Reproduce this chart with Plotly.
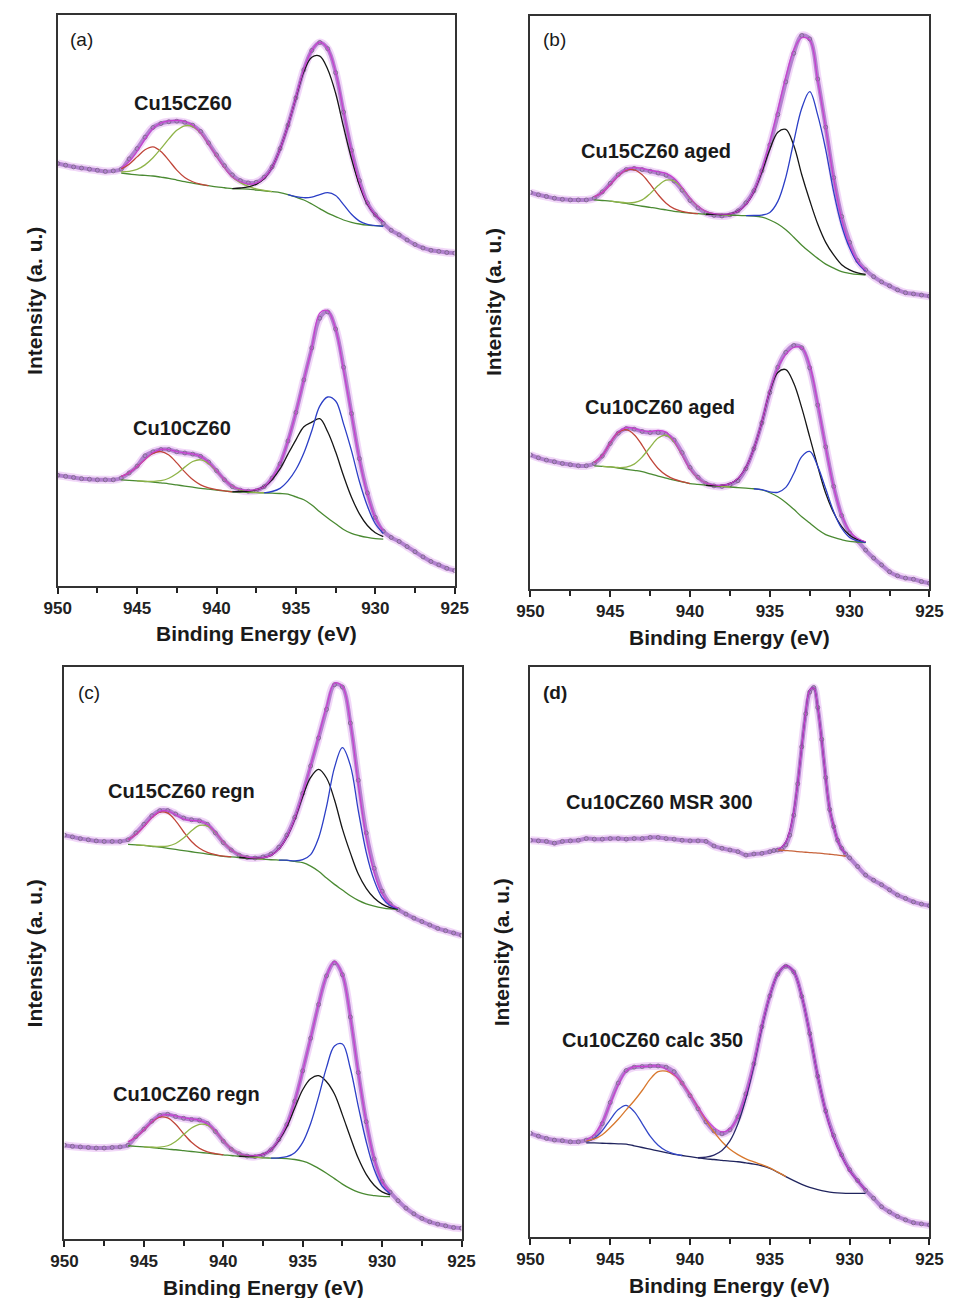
import plotly.graph_objects as go

FIG_W, FIG_H = 958, 1298
FONT = "Liberation Sans, Arial, sans-serif"

# Binding-energy grids (eV, high -> low)
BE = [950 - 0.5 * i for i in range(51)]
D1_BE = ([950 - 0.5 * i for i in range(31)]
         + [934.75 - 0.25 * i for i in range(20)]
         + [929.5 - 0.5 * i for i in range(10)])

# ---------------- (a) Cu15CZ60 ----------------
A1_COUNTS = [74.0, 73.7, 73.4, 73.2, 73.0, 72.8, 72.6, 72.7, 73.0, 74.8,
             76.6, 78.6, 80.3, 81.0, 81.3, 81.4, 81.2, 80.7, 79.6, 77.6,
             75.5, 73.6, 72.0, 71.0, 70.6, 70.7, 71.6, 73.4, 76.6, 80.7,
             85.5, 90.4, 93.8, 95.2, 94.1, 89.9, 83.0, 76.3, 71.0, 67.1,
             65.0, 63.5, 62.3, 61.5, 60.6, 59.8, 59.2, 58.8, 58.6, 58.4, 58.3]
A1_BG = [72.3, 72.15, 72.0, 71.9, 71.8, 71.6, 71.4, 71.1, 70.8, 70.55, 70.3, 70.1,
         69.9, 69.75, 69.6, 69.55, 69.5, 69.35, 69.2, 69.05, 68.9, 68.55, 68.1, 67.6,
         66.9, 66.1, 65.3, 64.7, 64.1, 63.7, 63.4, 63.2, 63.1, 63.0]
A1_SAT1 = [0.75, 1.73, 3.15, 4.5, 5.1, 4.5, 3.15, 1.73, 0.75, 0.25, 0.07, 0.0]
A1_SAT2 = [0.2, 0.45, 0.95, 1.85, 3.2, 5.0, 6.9, 8.7, 9.8, 9.9, 9.0, 7.3, 5.4, 3.5,
           2.0, 1.1, 0.5, 0.2, 0.1, 0.0]
A1_CU2 = [0.0, 0.15, 0.4, 1.0, 2.15, 4.25, 7.6, 12.1, 17.4, 22.5, 25.7, 26.7, 25.2,
          21.6, 16.3, 11.1, 6.8, 3.7, 1.85, 0.8]
A1_CU1 = [0.0, 0.1, 0.4, 1.2, 2.45, 3.6, 3.7, 2.7, 1.4, 0.5, 0.13, 0.03, 0.0]

# ---------------- (a) Cu10CZ60 ----------------
A2_COUNTS = [19.4, 19.2, 19.0, 18.8, 18.7, 18.6, 18.6, 18.6, 18.9, 19.8,
             21.0, 22.8, 23.5, 23.9, 23.9, 23.5, 23.3, 23.1, 22.7, 21.7,
             20.2, 18.6, 17.4, 16.8, 16.6, 16.7, 17.4, 18.9, 21.4, 25.4,
             30.4, 36.1, 41.7, 46.9, 48.0, 45.0, 38.3, 30.2, 22.3, 16.3,
             12.0, 9.6, 8.5, 7.8, 6.9, 6.0, 5.1, 4.3, 3.7, 3.1, 2.7]
A2_BG = [18.6, 18.5, 18.4, 18.3, 18.2, 18.05, 17.9, 17.7, 17.5, 17.3, 17.1, 16.95,
         16.8, 16.65, 16.5, 16.45, 16.4, 16.35, 16.3, 16.25, 16.2, 16.1, 15.6, 15.1,
         14.2, 13.0, 11.9, 10.9, 9.9, 9.2, 8.8, 8.5, 8.3, 8.2]
A2_SAT1 = [0.6, 1.34, 2.48, 3.86, 5.03, 5.5, 5.03, 3.86, 2.48, 1.34, 0.6, 0.23, 0.07, 0.02, 0.0]
A2_SAT2 = [0.0, 0.03, 0.13, 0.39, 0.97, 1.99, 3.32, 4.5, 5.0, 4.5, 3.32, 1.99, 0.97,
           0.39, 0.13, 0.03, 0.0]
A2_CU2 = [0.0, 0.1, 0.2, 0.5, 1.1, 2.4, 4.3, 7.0, 10.0, 12.8, 14.5, 16.3, 15.1, 12.6,
          9.4, 6.35, 3.84, 2.09, 1.02, 0.45]
A2_CU1 = [0.0, 0.3, 0.9, 2.3, 4.8, 8.2, 13.0, 18.5, 21.2, 21.5, 18.5, 14.5, 9.5, 5.5, 2.6, 1.0]

# ---------------- (b) Cu15CZ60 aged ----------------
B1_COUNTS = [69.2, 68.8, 68.5, 68.2, 68.0, 67.9, 67.9, 67.9, 68.2, 69.3,
             70.8, 72.3, 73.2, 73.4, 73.2, 72.9, 72.6, 72.2, 71.2, 69.6,
             67.8, 66.5, 65.6, 65.2, 65.1, 65.3, 66.0, 67.4, 69.5, 73.0,
             77.5, 82.8, 88.5, 93.5, 96.6, 96.0, 89.0, 80.6, 71.8, 65.0,
             60.5, 57.3, 55.7, 54.5, 53.6, 52.9, 52.2, 51.7, 51.5, 51.3, 51.1]
B1_BG = [67.9, 67.8, 67.7, 67.5, 67.3, 67.05, 66.8, 66.6, 66.4, 66.15, 65.9, 65.75,
         65.6, 65.5, 65.4, 65.35, 65.3, 65.25, 65.2, 65.15, 65.1, 64.9, 64.4, 63.7,
         62.7, 61.4, 60.0, 58.8, 57.7, 56.7, 56.0, 55.4, 55.1, 54.9, 54.8]
B1_SAT1 = [0.55, 1.4, 2.9, 4.6, 5.8, 6.1, 5.5, 4.05, 2.42, 1.18, 0.47, 0.15, 0.04, 0.0]
B1_SAT2 = [0.0, 0.03, 0.1, 0.4, 1.1, 2.4, 4.0, 5.2, 5.3, 4.2, 2.6, 1.3, 0.5, 0.15, 0.04, 0.0]
B1_CU2 = [0.0, 0.02, 0.06, 0.23, 0.74, 1.93, 4.25, 7.9, 12.3, 16.0, 17.5, 16.0, 12.3,
          9.0, 6.0, 3.8, 2.3, 1.2, 0.6, 0.25, 0.1]
B1_CU1 = [0.0, 0.08, 0.35, 1.32, 3.94, 9.15, 16.7, 23.9, 28.0, 25.0, 20.0, 13.3, 8.0,
          4.4, 2.0, 0.7]

# ---------------- (b) Cu10CZ60 aged ----------------
B2_COUNTS = [23.4, 22.9, 22.5, 22.2, 21.9, 21.7, 21.5, 21.5, 21.9, 23.2,
             25.4, 27.2, 28.0, 27.9, 27.5, 27.3, 27.3, 27.0, 26.0, 23.8,
             21.2, 19.5, 18.4, 18.0, 17.9, 18.2, 18.9, 21.0, 24.5, 29.0,
             34.3, 38.7, 41.3, 42.5, 42.1, 38.6, 32.1, 24.8, 17.9, 12.8,
             9.8, 8.4, 6.8, 5.4, 4.2, 3.0, 2.3, 1.9, 1.7, 1.3, 1.0]
B2_BG = [21.5, 21.4, 21.3, 21.1, 20.9, 20.7, 20.5, 20.1, 19.7, 19.35, 19.0, 18.7,
         18.4, 18.25, 18.1, 18.0, 17.9, 17.8, 17.7, 17.6, 17.5, 17.3, 16.8, 16.1,
         15.1, 13.9, 12.6, 11.5, 10.4, 9.5, 9.0, 8.6, 8.3, 8.2, 8.1]
B2_SAT1 = [0.6, 1.9, 4.2, 6.23, 6.9, 6.23, 4.58, 2.74, 1.34, 0.53, 0.17, 0.05, 0.0]
B2_SAT2 = [0.0, 0.02, 0.1, 0.37, 1.1, 2.54, 4.64, 6.65, 7.5, 6.65, 4.64, 2.54, 1.1,
           0.37, 0.1, 0.02, 0.0]
B2_CU2 = [0.0, 0.05, 0.2, 0.6, 1.6, 3.6, 7.0, 11.8, 17.7, 21.7, 23.2, 22.0, 19.0,
          15.0, 11.0, 7.2, 4.3, 2.3, 1.1, 0.4, 0.1]
B2_CU1 = [0.0, 0.03, 0.16, 0.78, 2.63, 6.25, 10.5, 12.5, 11.0, 8.0, 4.5, 2.0, 0.7, 0.2, 0.05]

# ---------------- (c) Cu15CZ60 regn ----------------
C1_COUNTS = [70.6, 70.3, 70.0, 69.8, 69.6, 69.5, 69.5, 69.5, 69.8, 71.0,
             72.5, 74.0, 74.9, 74.9, 74.3, 73.6, 73.3, 73.1, 72.5, 71.0,
             69.3, 68.0, 67.1, 66.7, 66.6, 66.8, 67.3, 68.5, 70.6, 73.7,
             77.9, 82.7, 87.6, 92.6, 96.9, 96.5, 90.2, 80.2, 71.0, 64.8,
             60.8, 58.6, 57.6, 56.8, 56.1, 55.5, 54.9, 54.3, 53.9, 53.5, 53.1]
C1_BG = [69.0, 68.9, 68.8, 68.65, 68.5, 68.3, 68.1, 67.9, 67.7, 67.5, 67.3, 67.1,
         66.9, 66.8, 66.7, 66.6, 66.5, 66.4, 66.3, 66.25, 66.2, 66.0, 65.8, 65.2,
         64.3, 63.1, 62.0, 61.0, 60.0, 59.2, 58.6, 58.2, 57.9, 57.7, 57.6]
C1_SAT1 = [0.8, 1.8, 3.3, 5.0, 6.14, 6.14, 5.0, 3.3, 1.8, 0.8, 0.28, 0.09, 0.02, 0.0]
C1_SAT2 = [0.0, 0.01, 0.04, 0.12, 0.39, 1.05, 2.2, 3.67, 4.8, 4.9, 3.95, 2.5, 1.25,
           0.48, 0.15, 0.04, 0.0]
C1_CU2 = [0.0, 0.02, 0.08, 0.26, 0.77, 1.9, 4.05, 7.4, 11.55, 15.5, 17.8, 17.5, 14.8,
          10.7, 7.5, 4.6, 2.7, 1.4, 0.65, 0.25, 0.1]
C1_CU1 = [0.0, 0.02, 0.1, 0.52, 2.0, 5.8, 12.5, 20.4, 24.9, 22.8, 15.7, 9.0, 4.5, 1.8,
          0.6, 0.15]

# ---------------- (c) Cu10CZ60 regn ----------------
C2_COUNTS = [16.4, 16.2, 16.1, 16.0, 15.9, 15.9, 16.0, 16.1, 16.4, 17.9,
             19.2, 20.6, 21.6, 21.8, 21.4, 21.1, 20.9, 20.8, 20.2, 18.8,
             17.1, 15.7, 14.9, 14.5, 14.4, 14.7, 15.6, 17.4, 20.0, 24.1,
             29.4, 35.1, 41.0, 46.0, 48.3, 46.2, 38.8, 29.1, 20.5, 14.0,
             10.1, 8.2, 6.7, 5.4, 4.4, 3.6, 3.0, 2.6, 2.3, 2.0, 1.9]
C2_BG = [16.3, 16.2, 16.1, 16.0, 15.85, 15.7, 15.6, 15.45, 15.3, 15.15, 15.0, 14.85,
         14.7, 14.6, 14.45, 14.4, 14.3, 14.2, 14.15, 14.1, 14.05, 13.9, 13.6, 13.1,
         12.35, 11.5, 10.55, 9.6, 8.8, 8.2, 7.8, 7.6, 7.45, 7.4]
C2_SAT1 = [0.7, 1.6, 2.95, 4.45, 5.46, 5.46, 4.45, 2.95, 1.6, 0.7, 0.25, 0.07, 0.0]
C2_SAT2 = [0.0, 0.05, 0.2, 0.6, 1.45, 2.8, 4.1, 4.9, 4.9, 4.0, 2.5, 1.2, 0.45, 0.12, 0.03, 0.0]
C2_CU2 = [0.0, 0.08, 0.25, 0.6, 1.45, 3.2, 5.6, 9.0, 12.5, 14.9, 16.2, 16.0, 14.8,
          12.1, 9.0, 5.9, 3.5, 1.8, 0.78, 0.3]
C2_CU1 = [0.0, 0.1, 0.35, 1.2, 3.3, 7.1, 12.5, 18.5, 23.2, 24.5, 21.0, 15.0, 9.2, 4.6, 1.8, 0.5]

# ---------------- (d) Cu10CZ60 MSR 300 ----------------
D1_COUNTS = [69.6, 69.5, 69.4, 69.1, 69.4, 69.5, 69.6, 69.9, 69.8, 69.8,
             69.9, 69.9, 69.8, 69.9, 69.9, 70.1, 70.1, 69.9, 69.8, 69.6,
             69.5, 69.5, 69.4, 68.6, 68.2, 67.9, 67.6, 67.0, 67.2, 67.3, 67.6,
             67.8, 67.9, 68.0, 68.8, 70.5, 74.0, 79.5, 86.0, 91.8, 95.6,
             96.4, 92.9, 87.3, 80.6, 75.0, 72.0, 69.6, 68.2, 67.2, 66.5,
             65.0, 63.5, 62.6, 61.8, 60.9, 60.0, 59.4, 58.8, 58.4, 58.1]
D1_BG = [67.9, 67.85, 67.8, 67.75, 67.7, 67.6, 67.55, 67.5, 67.45, 67.4, 67.35, 67.3,
         67.2, 67.15, 67.1, 67.0, 66.9, 66.8]
D1_CU = [0.2, 0.58, 1.53, 3.5, 6.97, 12.1, 18.5, 24.5, 28.5, 28.9, 25.6, 19.8, 13.35,
         7.9, 5.0, 2.6, 1.2, 0.45]

# ---------------- (d) Cu10CZ60 calc 350 ----------------
D2_COUNTS = [18.2, 17.7, 17.3, 17.0, 16.9, 16.7, 16.7, 17.0, 17.6, 19.9,
             23.6, 27.0, 29.2, 29.8, 29.9, 30.0, 30.0, 29.8, 29.0, 27.0,
             24.8, 22.5, 20.2, 18.6, 18.1, 18.8, 21.1, 25.1, 30.4, 36.9,
             42.3, 46.1, 47.5, 46.5, 42.2, 35.7, 28.2, 22.1, 17.8, 14.4,
             11.8, 9.9, 8.2, 6.8, 5.3, 4.4, 3.6, 3.0, 2.5, 2.3, 2.1]
D2_BG = [16.5, 16.5, 16.45, 16.4, 16.35, 16.3, 16.0, 15.7, 15.4, 15.1, 14.8, 14.5,
         14.3, 14.1, 13.9, 13.7, 13.6, 13.45, 13.3, 13.2, 13.0, 12.8, 12.5, 12.05,
         11.35, 10.6, 9.9, 9.25, 8.7, 8.3, 8.0, 7.8, 7.7, 7.65, 7.65, 7.65]
D2_SAT1 = [0.2, 0.8, 2.2, 4.2, 6.0, 6.8, 6.0, 4.2, 2.3, 1.0, 0.34, 0.1, 0.0]
D2_SAT2 = [0.3, 0.7, 1.5, 2.8, 4.3, 6.0, 7.9, 10.0, 12.3, 13.9, 14.3, 13.9, 12.7, 10.9,
           8.84, 6.74, 4.85, 3.27, 2.09, 1.25, 0.71, 0.37, 0.19, 0.09, 0.04, 0.0]
D2_CU = [0.0, 0.31, 0.77, 1.72, 3.55, 6.66, 11.3, 17.35, 24.3, 30.3, 34.8, 37.0, 36.6,
         33.0, 27.0, 20.0, 14.0, 9.6, 6.5, 4.0, 2.2, 0.6]

TICK_VALUES = [950, 945, 940, 935, 930, 925]
TICK_TEXT = ["950", "945", "940", "935", "930", "925"]
SAMPLE_LABELS = ["Cu15CZ60", "Cu10CZ60", "Cu15CZ60 aged", "Cu10CZ60 aged",
                 "Cu15CZ60 regn", "Cu10CZ60 regn", "Cu10CZ60 MSR 300", "Cu10CZ60 calc 350"]
PANEL_TAGS = ["(a)", "(b)", "(c)", "(d)"]

# Colours
C_DATA = "rgba(120,100,132,0.8)"
C_BAND = "rgba(162,108,196,0.8)"
C_GLOW = "rgba(228,176,242,0.5)"
C_ENV = "#c83fd0"
C_BG = "#4a8a32"
C_RED = "#c0463a"
C_GRN = "#8fb448"
C_BLK = "#161616"
C_BLU = "#2c3fc6"

SPECTRA = [
    dict(ax=1, be=BE, counts=A1_COUNTS, fit_start=946.0, step=0.5, bg=A1_BG, bg_color=C_BG,
         comps=[(946.0, A1_SAT1, C_RED), (946.0, A1_SAT2, C_GRN),
                (939.0, A1_CU2, C_BLK), (935.5, A1_CU1, C_BLU)]),
    dict(ax=1, be=BE, counts=A2_COUNTS, fit_start=946.0, step=0.5, bg=A2_BG, bg_color=C_BG,
         comps=[(946.0, A2_SAT1, C_RED), (945.0, A2_SAT2, C_GRN),
                (939.0, A2_CU2, C_BLK), (937.0, A2_CU1, C_BLU)]),
    dict(ax=2, be=BE, counts=B1_COUNTS, fit_start=946.0, step=0.5, bg=B1_BG, bg_color=C_BG,
         comps=[(946.0, B1_SAT1, C_RED), (945.0, B1_SAT2, C_GRN),
                (939.0, B1_CU2, C_BLK), (936.5, B1_CU1, C_BLU)]),
    dict(ax=2, be=BE, counts=B2_COUNTS, fit_start=946.0, step=0.5, bg=B2_BG, bg_color=C_BG,
         comps=[(946.0, B2_SAT1, C_RED), (945.5, B2_SAT2, C_GRN),
                (939.0, B2_CU2, C_BLK), (936.0, B2_CU1, C_BLU)]),
    dict(ax=3, be=BE, counts=C1_COUNTS, fit_start=946.0, step=0.5, bg=C1_BG, bg_color=C_BG,
         comps=[(946.0, C1_SAT1, C_RED), (945.5, C1_SAT2, C_GRN),
                (939.0, C1_CU2, C_BLK), (936.5, C1_CU1, C_BLU)]),
    dict(ax=3, be=BE, counts=C2_COUNTS, fit_start=946.0, step=0.5, bg=C2_BG, bg_color=C_BG,
         comps=[(946.0, C2_SAT1, C_RED), (945.0, C2_SAT2, C_GRN),
                (939.0, C2_CU2, C_BLK), (937.0, C2_CU1, C_BLU)]),
    dict(ax=4, be=D1_BE, counts=D1_COUNTS, fit_start=934.5, step=0.25, bg=D1_BG,
         bg_color="#c8643c", comps=[(934.5, D1_CU, "#4a3a6a")]),
    dict(ax=4, be=BE, counts=D2_COUNTS, fit_start=946.5, step=0.5, bg=D2_BG,
         bg_color="#20245e", comps=[(946.5, D2_SAT1, "#3448c8"), (946.5, D2_SAT2, "#d8782e"),
                                    (939.5, D2_CU, "#2a2a6a")]),
]

# Panel boxes in pixels: left, right, top, bottom
PANELS = {1: (45, 454, 15, 586), 2: (532, 943, 16, 589),
          3: (52, 461, 667, 1239), 4: (532, 943, 667, 1237)}


def px_x(x):
    return x / FIG_W


def px_y(y):
    return 1 - y / FIG_H


fig = go.Figure()

for spec in SPECTRA:
    sfx = "" if spec["ax"] == 1 else str(spec["ax"])
    xa, ya = "x" + sfx, "y" + sfx
    n = len(spec["bg"])
    fit_be = [spec["fit_start"] - spec["step"] * i for i in range(n)]
    envelope = list(spec["bg"])
    comp_lines = []
    for start, vals, color in spec["comps"]:
        off = round((spec["fit_start"] - start) / spec["step"])
        xs = fit_be[off:off + len(vals)]
        ys = [spec["bg"][off + i] + v for i, v in enumerate(vals)]
        for i, v in enumerate(vals):
            envelope[off + i] += v
        comp_lines.append((xs, ys, color))

    # measured spectrum: glow, band and open-circle markers
    fig.add_trace(go.Scatter(x=spec["be"], y=spec["counts"], mode="lines",
                             line=dict(color=C_GLOW, width=8, shape="spline"),
                             xaxis=xa, yaxis=ya, hoverinfo="skip"))
    fig.add_trace(go.Scatter(x=spec["be"], y=spec["counts"], mode="lines",
                             line=dict(color=C_BAND, width=4, shape="spline"),
                             xaxis=xa, yaxis=ya, hoverinfo="skip"))
    fig.add_trace(go.Scatter(x=spec["be"], y=spec["counts"], mode="markers",
                             marker=dict(symbol="circle-open", size=4, color=C_DATA,
                                         line=dict(width=1, color=C_DATA)),
                             xaxis=xa, yaxis=ya))
    # Shirley-type background
    fig.add_trace(go.Scatter(x=fit_be, y=spec["bg"], mode="lines",
                             line=dict(color=spec["bg_color"], width=1.3, shape="spline"),
                             xaxis=xa, yaxis=ya))
    for xs, ys, color in comp_lines:
        fig.add_trace(go.Scatter(x=xs, y=ys, mode="lines",
                                 line=dict(color=color, width=1.3, shape="spline"),
                                 xaxis=xa, yaxis=ya))
    # fitted envelope
    fig.add_trace(go.Scatter(x=fit_be, y=envelope, mode="lines",
                             line=dict(color=C_ENV, width=1.2, shape="spline"),
                             xaxis=xa, yaxis=ya))

layout = dict(width=FIG_W, height=FIG_H, margin=dict(l=0, r=0, t=0, b=0),
              paper_bgcolor="white", plot_bgcolor="white", showlegend=False)

for k, (l, r, t, b) in PANELS.items():
    sfx = "" if k == 1 else str(k)
    layout["xaxis" + sfx] = dict(
        domain=[px_x(l), px_x(r)], range=[950, 925], anchor="y" + sfx,
        tickmode="array", tickvals=TICK_VALUES, ticktext=TICK_TEXT,
        ticks="outside", ticklen=6, tickwidth=1.5, tickcolor="#222",
        minor=dict(tickvals=[947.5, 942.5, 937.5, 932.5, 927.5], ticks="outside",
                   ticklen=5, tickwidth=1.5, tickcolor="#222"),
        showline=True, mirror=True, linecolor="#333", linewidth=1.5,
        showgrid=False, zeroline=False,
        tickfont=dict(family=FONT, size=17, color="#222", weight="bold"))
    layout["yaxis" + sfx] = dict(
        domain=[px_y(b), px_y(t)], range=[0, 100], anchor="x" + sfx,
        showticklabels=False, ticks="", showline=True, mirror=True,
        linecolor="#333", linewidth=1.5, showgrid=False, zeroline=False)

fig.update_layout(**layout)

annotations = []


def note(text, x, y, size, bold=True, angle=0):
    annotations.append(dict(text=text, x=px_x(x), y=px_y(y), xref="paper", yref="paper",
                            showarrow=False, textangle=angle, xanchor="center",
                            yanchor="middle",
                            font=dict(family=FONT, size=size, color="#1a1a1a",
                                      weight="bold" if bold else "normal")))


# sample names
label_pos = [(174, 103), (173, 428), (661, 151), (665, 407),
             (173, 791), (178, 1094), (665, 802), (658, 1040)]
for text, (x, y) in zip(SAMPLE_LABELS, label_pos):
    note(text, x, y, 20)

# panel tags
for text, (x, y), bold in zip(PANEL_TAGS, [(70, 40), (557, 40), (77, 692), (557, 692)],
                              [False, False, False, True]):
    note(text, x, y, 19, bold=bold)

# axis titles
for k, (l, r, t, b) in PANELS.items():
    note("Binding Energy (eV)", (l + r) / 2, b + 48, 21)
ytitle_x = {1: 21, 2: 494, 3: 21, 4: 502}
for k, (l, r, t, b) in PANELS.items():
    note("Intensity (a. u.)", ytitle_x[k], (t + b) / 2, 21, angle=-90)

fig.update_layout(annotations=annotations)
fig.write_html("out.html")
